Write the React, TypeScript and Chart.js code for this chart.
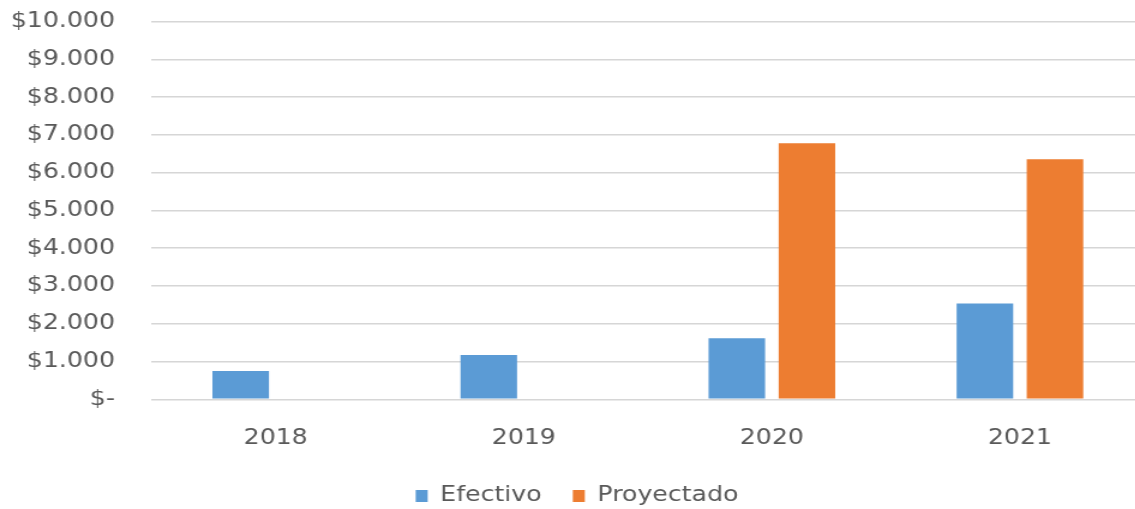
import React, { useEffect, useRef } from "react";
import { Chart, registerables } from "chart.js";

Chart.register(...registerables);

const categories = ["2018", "2019", "2020", "2021"];
const efectivo = [750, 1170, 1620, 2540];
const proyectado = [null, null, 6780, 6360];
const yTickValues = [0, 1000, 2000, 3000, 4000, 5000, 6000, 7000, 8000, 9000, 10000];
const yTickLabels = ["$-", "$1.000", "$2.000", "$3.000", "$4.000", "$5.000", "$6.000", "$7.000", "$8.000", "$9.000", "$10.000"];
const seriesNames = ["Efectivo", "Proyectado"];

const STRETCH = 1.2;
const W = 974;
const H = 509;
const FONT = "'DejaVu Sans', Verdana, sans-serif";
const TEXT = "#595959";

export default function App() {
  const ref = useRef<HTMLCanvasElement | null>(null);

  useEffect(() => {
    if (!ref.current) return;
    const chart = new Chart(ref.current, {
      type: "bar",
      data: {
        labels: categories,
        datasets: [
          {
            label: seriesNames[0],
            data: efectivo,
            backgroundColor: "#5B9BD5",
            categoryPercentage: 0.565,
            barPercentage: 0.807,
          },
          {
            label: seriesNames[1],
            data: proyectado,
            backgroundColor: "#ED7D31",
            categoryPercentage: 0.565,
            barPercentage: 0.807,
          },
        ],
      },
      options: {
        responsive: false,
        animation: false,
        maintainAspectRatio: false,
        layout: { padding: { left: 8.4, right: 20.7, top: 21.7, bottom: -7.5 } },
        plugins: {
          tooltip: { enabled: false },
          legend: {
            position: "bottom",
            labels: {
              boxWidth: 10,
              boxHeight: 12,
              padding: 26,
              color: TEXT,
              font: { family: FONT, size: 21 },
            },
          },
        },
        scales: {
          x: {
            grid: { display: false },
            border: { display: false },
            ticks: { color: TEXT, font: { family: FONT, size: 21 }, padding: 19 },
            afterFit: (s: any) => {
              s.height = 60.2;
            },
          },
          y: {
            min: 0,
            max: 10000,
            afterBuildTicks: (s: any) => {
              s.ticks = yTickValues.map((v) => ({ value: v }));
            },
            ticks: {
              color: TEXT,
              font: { family: FONT, size: 21 },
              padding: 0.6,
              callback: (v: any) => {
                const i = yTickValues.indexOf(Number(v));
                return i >= 0 ? yTickLabels[i] : "";
              },
            },
            grid: {
              color: "#d6d6d6",
              lineWidth: 1.6,
              drawTicks: true,
              tickLength: 30,
              tickColor: "rgba(0,0,0,0)",
            },
            border: { display: false },
            afterFit: (s: any) => {
              s.width = 118;
            },
          },
        },
      },
    });
    return () => chart.destroy();
  }, []);

  return (
    <div
      style={{
        position: "fixed",
        left: 0,
        top: 0,
        width: 1135,
        height: H,
        overflow: "hidden",
        background: "#fff",
      }}
    >
      <div style={{ width: W, height: H, transform: `scaleX(${STRETCH})`, transformOrigin: "0 0" }}>
        <canvas ref={ref} width={W} height={H} style={{ width: W, height: H, display: "block" }} />
      </div>
    </div>
  );
}
